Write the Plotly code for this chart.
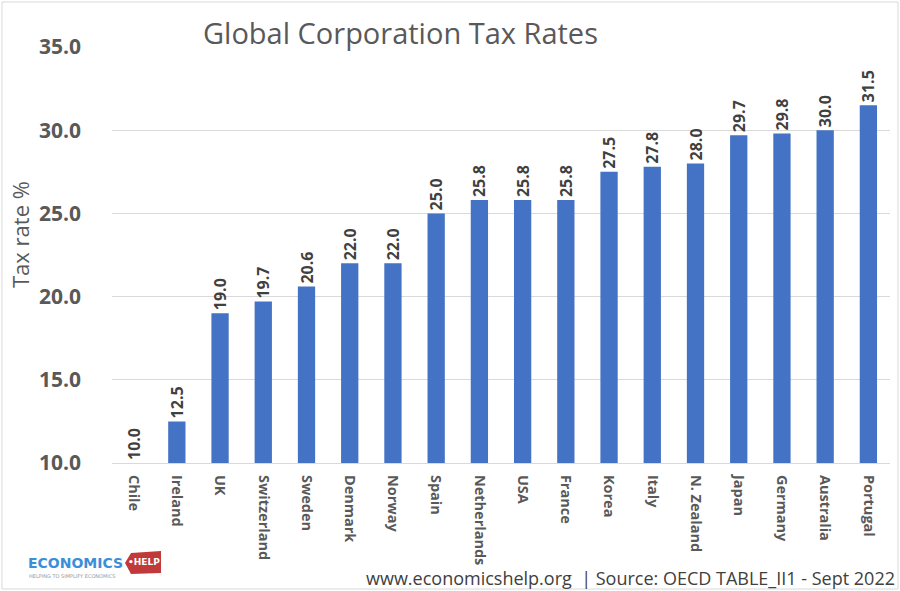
import plotly.graph_objects as go

countries = ["Chile", "Ireland", "UK", "Switzerland", "Sweden", "Denmark", "Norway",
             "Spain", "Netherlands", "USA", "France", "Korea", "Italy", "N. Zealand",
             "Japan", "Germany", "Australia", "Portugal"]
tax_rates = [10.0, 12.5, 19.0, 19.7, 20.6, 22.0, 22.0, 25.0, 25.8, 25.8, 25.8,
             27.5, 27.8, 28.0, 29.7, 29.8, 30.0, 31.5]
y_ticks = [10, 15, 20, 25, 30, 35]

FONT = "Open Sans"
GREY = "#595959"

L, R, T, B = 112, 10, 47, 128
PW, PH = 900 - L - R, 591 - T - B


def px(x):
    return (x - L) / PW


def py(y):
    return (591 - B - y) / PH


fig = go.Figure()
fig.add_trace(go.Bar(
    x=countries, y=tax_rates,
    marker=dict(color="#4472C4", line=dict(width=0)),
    width=0.4,
    text=[f"{v:.1f}" for v in tax_rates],
    textposition="outside",
    textangle=-90,
    constraintext="none",
    textfont=dict(family=FONT, size=16, color="#404040", weight="bold"),
    cliponaxis=False,
))

fig.update_layout(
    width=900, height=591,
    margin=dict(l=L, r=R, t=T, b=B),
    paper_bgcolor="white", plot_bgcolor="white",
    showlegend=False,
    xaxis=dict(
        tickangle=90,
        tickfont=dict(family=FONT, size=14.5, color=GREY, weight="bold"),
        showline=True, linecolor="#d9d9d9", linewidth=1,
        ticks="", showgrid=False,
        ticklabelstandoff=8,
    ),
    yaxis=dict(
        range=[10, 35],
        tickvals=y_ticks,
        ticktext=[f"{t:.1f}" for t in y_ticks],
        tickfont=dict(family=FONT, size=21, color=GREY, weight="bold"),
        showgrid=True, gridcolor="#d9d9d9", gridwidth=1,
        zeroline=False, showline=False, ticks="",
        ticklabelstandoff=30,
    ),
)

# Title
fig.add_annotation(text="Global Corporation Tax Rates", xref="paper", yref="paper",
                   x=px(400), y=py(33), xanchor="center", yanchor="middle",
                   showarrow=False, font=dict(family=FONT, size=29, color=GREY))
# Y axis title
fig.add_annotation(text="Tax rate %", xref="paper", yref="paper",
                   x=px(20), y=py(235), xanchor="center", yanchor="middle",
                   textangle=-90, showarrow=False, font=dict(family=FONT, size=22, color=GREY))
# Source
fig.add_annotation(text="www.economicshelp.org  | Source: OECD TABLE_II1 - Sept 2022",
                   xref="paper", yref="paper", x=px(897), y=py(578),
                   xanchor="right", yanchor="middle", showarrow=False,
                   font=dict(family=FONT, size=18, color="#404040"))
# Logo
fig.add_annotation(text="ECONOMICS", xref="paper", yref="paper",
                   x=px(26), y=py(563), xanchor="left", yanchor="middle",
                   showarrow=False, font=dict(family="DejaVu Sans", size=14, color="#3b8ed8", weight="bold"))
fig.add_shape(type="path", xref="paper", yref="paper",
              path=f"M {px(125)} {py(563)} L {px(131)} {py(553)} L {px(161)} {py(551)} "
                   f"L {px(161)} {py(573)} L {px(131)} {py(574)} Z",
              fillcolor="#c0393b", line=dict(width=0))
fig.add_annotation(text="•HELP", xref="paper", yref="paper",
                   x=px(144), y=py(562), xanchor="center", yanchor="middle",
                   showarrow=False, font=dict(family="DejaVu Sans", size=9, color="white", weight="bold"))
fig.add_annotation(text="HELPING TO SIMPLIFY ECONOMICS", xref="paper", yref="paper",
                   x=px(27), y=py(576), xanchor="left", yanchor="middle",
                   showarrow=False, font=dict(family="DejaVu Sans", size=5, color="#999999"))
# Chart border
fig.add_shape(type="rect", xref="paper", yref="paper",
              x0=px(2), x1=px(898), y0=py(589), y1=py(2),
              line=dict(color="#d9d9d9", width=1), fillcolor="rgba(0,0,0,0)")

fig.write_html("out.html", config={"displayModeBar": False},
               post_script="document.body.style.margin='0';")
